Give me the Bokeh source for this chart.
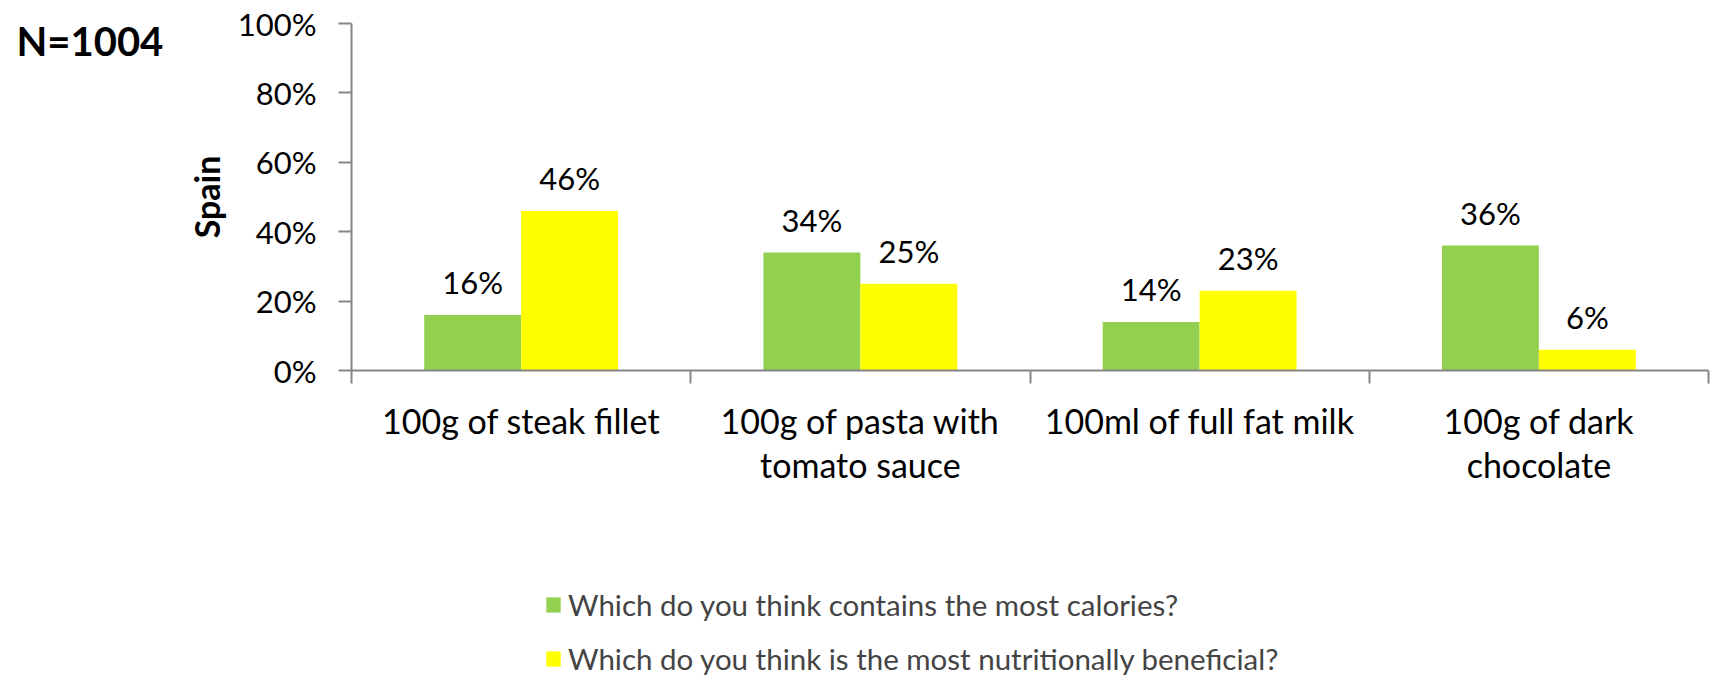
from bokeh.plotting import figure
from bokeh.layouts import column, row
from bokeh.models import (FixedTicker, PrintfTickFormatter, Legend, LegendItem,
                          Label, ColumnDataSource, Range1d)
from bokeh.embed import file_html
from bokeh.resources import INLINE
from bokeh.core.properties import value

# ---- data ----
categories = ["100g of steak fillet", "100g of pasta with\ntomato sauce",
              "100ml of full fat milk", "100g of dark\nchocolate"]
calories = [16, 34, 14, 36]
nutritious = [46, 25, 23, 6]
series_names = ["Which do you think contains the most calories?",
                "Which do you think is the most nutritionally beneficial?"]
y_ticks = [0, 20, 40, 60, 80, 100]
sample_label = "N=1004"
country = "Spain"

FONT = "Lato"
GREEN = "#92D050"
YELLOW = "#FFFF00"
AXIS = "#868686"

n = len(categories)
centers = [i + 0.5 for i in range(n)]
bw = 1 / 3.5

src = ColumnDataSource(dict(
    xg=[c - bw / 2 for c in centers],
    xy=[c + bw / 2 for c in centers],
    cal=calories, nut=nutritious,
    cal_lbl=[f"{v}%" for v in calories],
    nut_lbl=[f"{v}%" for v in nutritious],
))

LEFT_W = 182
TOP_H = 560


def blank(w, h):
    # a figure whose frame fills the canvas, with data units equal to pixels
    f = figure(width=w, height=h, x_range=Range1d(0, w), y_range=Range1d(0, h),
               output_backend="svg", toolbar_location=None, min_border=0)
    f.axis.visible = False
    f.grid.visible = False
    f.outline_line_color = None
    return f


# ---- left strip with sample size ----
p_n = blank(LEFT_W, TOP_H)
p_n.add_layout(Label(x=16, y=TOP_H - 28, text=sample_label,
                     text_font=FONT, text_font_style="bold", text_font_size="40px",
                     text_baseline="middle", text_align="left", text_color="black"))

# ---- main chart ----
p = figure(width=1710 - LEFT_W, height=TOP_H, x_range=Range1d(0, n), y_range=Range1d(0, 100),
           output_backend="svg", toolbar_location=None,
           min_border_left=169, min_border_right=2, min_border_top=23,
           min_border_bottom=TOP_H - 370)
p.outline_line_color = None
p.xgrid.visible = False
p.ygrid.visible = False

p.vbar(x="xg", top="cal", width=bw, fill_color=GREEN, line_color=None, source=src)
p.vbar(x="xy", top="nut", width=bw, fill_color=YELLOW, line_color=None, source=src)

for xcol, lcol, ycol in (("xg", "cal_lbl", "cal"), ("xy", "nut_lbl", "nut")):
    p.text(x=xcol, y=ycol, text=lcol, source=src, text_align="center",
           text_baseline="alphabetic", y_offset=-33,
           text_font=value(FONT), text_font_size="31px", text_color="black")

ya = p.yaxis[0]
ya.ticker = FixedTicker(ticks=y_ticks, minor_ticks=[])
ya.formatter = PrintfTickFormatter(format="%d%%")
ya.axis_line_color = AXIS
ya.axis_line_width = 2
ya.major_tick_line_color = AXIS
ya.major_tick_line_width = 2
ya.major_tick_out = 13
ya.major_tick_in = 0
ya.minor_tick_line_color = None
ya.major_label_text_font = FONT
ya.major_label_text_font_size = "31px"
ya.major_label_text_color = "black"
ya.major_label_standoff = 22
ya.axis_label = country
ya.axis_label_text_font = FONT
ya.axis_label_text_font_style = "bold"
ya.axis_label_text_font_size = "34px"
ya.axis_label_text_color = "black"
ya.axis_label_standoff = 8

xa = p.xaxis[0]
xa.ticker = FixedTicker(ticks=centers, minor_ticks=list(range(n + 1)))
xa.major_label_overrides = {c: lab for c, lab in zip(centers, categories)}
xa.axis_line_color = AXIS
xa.axis_line_width = 2
xa.major_tick_line_color = None
xa.major_tick_out = 0
xa.major_tick_in = 0
xa.minor_tick_line_color = AXIS
xa.minor_tick_line_width = 2
xa.minor_tick_out = 13
xa.minor_tick_in = 0
xa.major_label_text_font = FONT
xa.major_label_text_font_size = "34px"
xa.major_label_text_color = "black"
xa.major_label_text_line_height = 1.08
xa.major_label_standoff = 16

# ---- legend strip ----
LEG_H = 676 - TOP_H
p_leg = blank(1710, LEG_H)
lg = p_leg.vbar(x="xg", top="cal", width=bw, fill_color=GREEN, line_color=None,
                source=src, visible=False)
ly = p_leg.vbar(x="xy", top="nut", width=bw, fill_color=YELLOW, line_color=None,
                source=src, visible=False)
legend = Legend(items=[LegendItem(label=series_names[0], renderers=[lg]),
                       LegendItem(label=series_names[1], renderers=[ly])],
                location=(544, 0), orientation="vertical",
                glyph_width=18, glyph_height=19, label_standoff=6, spacing=19,
                padding=0, margin=0, border_line_color=None, background_fill_alpha=0,
                inactive_fill_alpha=0,
                label_text_font=FONT, label_text_font_size="29.5px")
p_leg.add_layout(legend)

layout = column(row(p_n, p), p_leg)
open("out.html", "w").write(file_html(layout, INLINE))
